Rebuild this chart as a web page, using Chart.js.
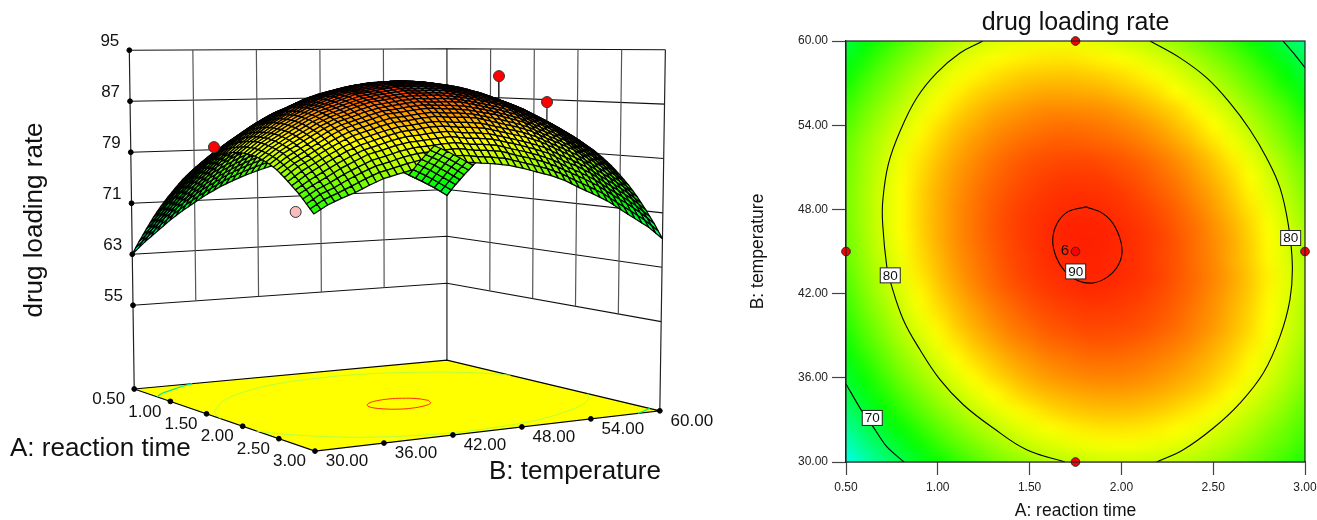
<!DOCTYPE html>
<html><head><meta charset="utf-8">
<style>html,body{margin:0;padding:0;background:#fff;width:1317px;height:520px;overflow:hidden}
canvas{position:absolute;top:0}</style>
<script src="https://cdn.jsdelivr.net/npm/chart.js@4"></script></head>
<body>
<canvas id="surface" width="740" height="520" style="left:0"></canvas>
<canvas id="contour" width="590" height="520" style="left:740px"></canvas>
<script>
const aValues=[0.5,0.6,0.7,0.8,0.9,1.0,1.1,1.2,1.3,1.4,1.5,1.6,1.7,1.8,1.9,2.0,2.1,2.2,2.3,2.4,2.5,2.6,2.7,2.8,2.9,3.0];
const bValues=[30,31.2,32.4,33.6,34.8,36,37.2,38.4,39.6,40.8,42,43.2,44.4,45.6,46.8,48,49.2,50.4,51.6,52.8,54,55.2,56.4,57.6,58.8,60];
const zRows=[
[63.0,64.8,66.4,68.0,69.4,70.7,71.9,73.0,73.9,74.7,75.4,76.0,76.5,76.9,77.1,77.2,77.2,77.1,76.8,76.5,75.7,74.8,73.7,72.6,71.4,70.0],
[65.3,67.0,68.7,70.2,71.6,72.9,74.0,75.1,76.0,76.8,77.5,78.1,78.5,78.8,79.0,79.1,79.1,78.9,78.7,78.3,77.5,76.7,75.7,74.6,73.3,72.0],
[67.4,69.1,70.7,72.3,73.6,74.9,76.0,77.0,77.9,78.7,79.4,79.9,80.3,80.7,80.9,80.9,80.9,80.7,80.4,80.0,79.3,78.4,77.4,76.4,75.2,73.8],
[69.4,71.1,72.7,74.2,75.5,76.8,77.9,78.9,79.7,80.5,81.1,81.7,82.0,82.3,82.5,82.5,82.5,82.3,82.0,81.5,80.8,80.0,79.0,78.0,76.8,75.5],
[71.2,72.9,74.4,75.9,77.2,78.5,79.5,80.5,81.4,82.1,82.7,83.2,83.6,83.8,84.0,84.0,83.9,83.7,83.4,82.9,82.2,81.4,80.5,79.5,78.3,77.0],
[72.8,74.5,76.0,77.5,78.8,80.0,81.0,82.0,82.8,83.5,84.1,84.6,84.9,85.2,85.3,85.3,85.2,85.0,84.6,84.1,83.5,82.7,81.8,80.8,79.7,78.4],
[74.3,76.0,77.5,78.9,80.2,81.4,82.4,83.3,84.2,84.8,85.4,85.9,86.2,86.4,86.5,86.5,86.3,86.1,85.7,85.2,84.6,83.8,82.9,82.0,80.9,79.6],
[75.7,77.3,78.8,80.2,81.5,82.6,83.6,84.5,85.3,85.9,86.5,87.0,87.2,87.4,87.5,87.4,87.3,87.0,86.6,86.1,85.4,84.7,83.8,82.8,81.7,80.4],
[76.9,78.5,79.9,81.3,82.5,83.7,84.6,85.5,86.3,86.9,87.5,87.9,88.1,88.3,88.4,88.3,88.1,87.8,87.4,86.8,86.2,85.4,84.4,83.4,82.3,81.0],
[77.9,79.5,80.9,82.2,83.5,84.6,85.5,86.4,87.2,87.7,88.3,88.7,88.9,89.0,89.1,89.0,88.7,88.4,88.0,87.4,86.7,85.9,84.9,83.9,82.8,81.5],
[78.7,80.3,81.7,83.0,84.3,85.4,86.2,87.1,87.8,88.4,88.9,89.3,89.4,89.6,89.6,89.5,89.2,88.9,88.5,87.8,87.1,86.3,85.3,84.3,83.1,81.7],
[79.5,81.0,82.3,83.7,84.9,86.0,86.8,87.7,88.4,88.9,89.4,89.7,89.9,90.0,90.0,89.8,89.6,89.2,88.8,88.1,87.4,86.6,85.5,84.4,83.3,81.9],
[80.0,81.5,82.9,84.2,85.3,86.4,87.2,88.0,88.7,89.2,89.7,90.0,90.1,90.3,90.3,90.0,89.8,89.4,88.9,88.2,87.5,86.6,85.5,84.5,83.3,81.8],
[80.4,81.9,83.2,84.5,85.6,86.7,87.5,88.3,89.0,89.4,89.9,90.2,90.3,90.4,90.3,90.1,89.8,89.4,88.9,88.1,87.4,86.5,85.4,84.3,83.1,81.7],
[80.6,82.1,83.4,84.7,85.8,86.8,87.6,88.4,89.0,89.4,89.9,90.2,90.2,90.3,90.3,90.0,89.7,89.3,88.7,87.9,87.2,86.3,85.2,84.0,82.8,81.3],
[80.7,82.2,83.4,84.7,85.8,86.8,87.5,88.3,88.9,89.3,89.7,90.0,90.0,90.1,90.0,89.7,89.4,88.9,88.4,87.6,86.8,85.9,84.7,83.6,82.3,80.8],
[80.6,82.1,83.3,84.5,85.6,86.6,87.3,88.0,88.7,89.0,89.4,89.7,89.7,89.7,89.6,89.3,88.9,88.5,87.9,87.1,86.3,85.3,84.2,83.0,81.7,80.2],
[80.4,81.8,83.0,84.2,85.3,86.2,86.9,87.6,88.2,88.6,88.9,89.2,89.1,89.2,89.1,88.7,88.3,87.8,87.3,86.4,85.6,84.6,83.4,82.2,80.9,79.4],
[80.0,81.4,82.6,83.7,84.8,85.7,86.4,87.1,87.7,88.0,88.3,88.5,88.5,88.5,88.3,88.0,87.6,87.1,86.5,85.6,84.7,83.8,82.5,81.3,80.0,78.4],
[79.5,80.9,82.0,83.1,84.2,85.1,85.7,86.4,86.9,87.2,87.5,87.7,87.6,87.6,87.5,87.1,86.6,86.1,85.5,84.6,83.7,82.7,81.4,80.2,78.9,77.3],
[78.8,80.1,81.2,82.3,83.4,84.3,84.9,85.5,86.1,86.3,86.6,86.8,86.7,86.6,86.4,86.0,85.6,85.0,84.4,83.4,82.5,81.5,80.2,79.0,77.6,76.0],
[77.9,79.3,80.3,81.4,82.4,83.3,83.9,84.5,85.0,85.2,85.5,85.7,85.5,85.5,85.3,84.8,84.3,83.8,83.1,82.1,81.2,80.2,78.9,77.6,76.2,74.6],
[76.9,78.2,79.3,80.3,81.3,82.1,82.7,83.3,83.8,84.0,84.3,84.4,84.2,84.1,83.9,83.4,82.9,82.4,81.7,80.7,79.7,78.7,77.3,76.0,74.6,73.0],
[75.9,77.0,78.0,79.1,80.0,80.9,81.4,82.0,82.4,82.6,82.8,83.0,82.7,82.6,82.4,81.9,81.4,80.8,80.1,79.0,78.1,77.0,75.6,74.3,72.9,71.2],
[74.7,75.9,76.7,77.7,78.6,79.4,79.9,80.5,80.9,81.1,81.3,81.4,81.1,81.0,80.8,80.2,79.7,79.1,78.3,77.3,76.3,75.2,73.8,72.5,71.0,69.3],
[73.5,74.6,75.4,76.1,77.0,77.8,78.3,78.8,79.3,79.3,79.6,79.6,79.4,79.2,78.9,78.4,77.8,77.2,76.4,75.3,74.3,73.2,71.8,70.4,69.0,67.2]
];
const aTicks=[0.5,1,1.5,2,2.5,3];
const bTicks=[30,36,42,48,54,60];
const zTicks=[55,63,71,79,87,95];
// contour lines
const c80LeftA=[1.245,1.121,0.994,0.885,0.794,0.73,0.7,0.7,0.722,0.743,0.812,0.903,1.012,1.139,1.302,1.484,1.693];
const c80LeftB=[60,59.15,57.73,55.94,53.56,51.19,48.57,46.91,43.94,42.78,40.14,38,35.87,34.08,32.42,30.87,30];
const c80RightA=[2.156,2.319,2.465,2.591,2.7,2.791,2.864,2.909,2.931,2.918,2.864,2.773,2.646,2.501,2.337,2.192];
const c80RightB=[60,58.8,57.37,55.59,53.68,51.67,49.53,46.91,44.06,41.57,38.95,36.34,34.2,32.42,30.87,30];
const c90A=[1.807,1.9,1.965,2.003,1.987,1.927,1.845,1.764,1.693,1.644,1.626,1.649,1.709,1.807];
const c90B=[48.18,47.7,46.77,45.27,44.13,43.21,42.76,42.92,43.58,44.63,45.85,46.98,47.84,48.18];
const c70LowA=[0.5,0.585,0.647,0.722,0.816];
const c70LowB=[35.56,33.66,32.52,31.09,30];
const c70HighA=[2.88,2.94,3];
const c70HighB=[60,59.1,58.1];
// design points
const designA=[0.5,3,1.75,1.75,1.75];
const designB=[45,45,30,60,45];
// design points as seen in the 3D view: A, B, response
const obsA=[1.64,3,0.5,1.65];
const obsB=[30,45.9,45.6,60];
const obsZ=[81.1,91.5,68.4,86.6];
const obsColor=['#ff0000','#ff0000','#f8bcbc','#ff0000'];
const stemIdx=[1,3];
const stemZ=[80,76];
const labelA=[0.741,2.922,1.751,0.643];
const labelB=[43.3,45.96,43.58,33.14];
const labelText=['80','80','90','70'];

Chart.defaults.font.family="'Liberation Sans',Arial,sans-serif";
Chart.defaults.color='#111';

function colorOf(z){
  const s=[[62,[0,255,255]],[72.5,[0,255,0]],[82.5,[255,255,0]],[91.5,[255,0,0]]];
  if(z<=s[0][0])return s[0][1];
  for(let i=1;i<s.length;i++){ if(z<=s[i][0]){
    const t=(z-s[i-1][0])/(s[i][0]-s[i-1][0]),p=s[i-1][1],q=s[i][1];
    return [0,1,2].map(k=>Math.round(p[k]+(q[k]-p[k])*t)); } }
  return s[3][1];
}
function rgb(c){return 'rgb('+c.join(',')+')';}

// camera: image of the box's floor corners (left, front, right, back), vertical scale at each, lean of the uprights
const floorQuad=[[130,392.3],[314,456],[665,414.7],[448.3,362.7]];
const pxPerUnit=[6.54,7.69,6.97,6.01];
const zFloor=41.87;
function proj(A,B,z){
  const u=(A-0.5)/2.5,v=(B-30)/30,h=z-zFloor;
  const w=[(1-u)*(1-v),u*(1-v),u*v,(1-u)*v];
  let fx=0,fy=0,s=0;
  w.forEach((k,i)=>{fx+=k*floorQuad[i][0];fy+=k*floorQuad[i][1];s+=k*pxPerUnit[i];});
  const lean=(fx<448?0.0157:0.026)*(fx-448)*(h/53.13);
  return {x:fx+lean,y:fy-h*s};
}
function polyline(A,B,z){return A.map((a,i)=>proj(a,B[i],z));}
function withBreaks(lines){const o=[];lines.forEach(l=>{o.push(...l,{x:NaN,y:NaN});});return o;}

const gridH=[],gridV=[];
zTicks.forEach(z=>{
  gridH.push([proj(0.5,30,z),proj(0.5,60,z)]);
  gridH.push([proj(0.5,60,z),proj(3,60,z)]);
});
bTicks.slice(1,-1).forEach(b=>gridV.push([proj(0.5,b,55),proj(0.5,b,95)]));
aTicks.slice(1,-1).forEach(a=>gridV.push([proj(a,60,55),proj(a,60,95)]));
const corners=[[proj(0.5,30,zFloor),proj(0.5,30,95)],[proj(0.5,60,zFloor),proj(0.5,60,95)],[proj(3,60,zFloor),proj(3,60,95)]];
const floorShape=[[0.5,30],[3,30],[3,60],[0.5,60],[0.5,30]].map(p=>proj(p[0],p[1],zFloor));
const tickDots=[...aTicks.map(a=>proj(a,30,zFloor)),...bTicks.slice(1).map(b=>proj(3,b,zFloor)),...zTicks.map(z=>proj(0.5,30,z))];
const stems=stemIdx.map((i,k)=>[proj(obsA[i],obsB[i],obsZ[i]),proj(obsA[i],obsB[i],stemZ[k])]);
const line=(data,color,width,order,extra)=>Object.assign({type:'scatter',showLine:true,data,borderColor:color,borderWidth:width,pointRadius:0,order,spanGaps:false,tension:0},extra||{});

const surfacePlugin={
  id:'surface',
  beforeDatasetDraw(chart,args){
    if(args.index!==0)return;
    const c=chart.ctx,X=chart.scales.x,Y=chart.scales.y;
    const P=(i,j)=>{const p=proj(aValues[i],bValues[j],zRows[i][j]);return [X.getPixelForValue(p.x),Y.getPixelForValue(p.y)];};
    const n=aValues.length,m=bValues.length;
    function cell(i,j){
      const p00=P(i,j),p10=P(i+1,j),p01=P(i,j+1),p11=P(i+1,j+1);
      const z00=zRows[i][j],z10=zRows[i+1][j],z01=zRows[i][j+1],z11=zRows[i+1][j+1];
      const L=(s,t)=>[0,1].map(k=>p00[k]*(1-s)*(1-t)+p10[k]*s*(1-t)+p01[k]*(1-s)*t+p11[k]*s*t);
      const Z=(s,t)=>z00*(1-s)*(1-t)+z10*s*(1-t)+z01*(1-s)*t+z11*s*t;
      for(let a=0;a<2;a++)for(let b=1;b>=0;b--){
        const s=a/2,t=b/2,d=.5;
        const q=[L(s,t),L(s+d,t),L(s+d,t+d),L(s,t+d)];
        c.beginPath();c.moveTo(q[0][0],q[0][1]);for(let k=1;k<4;k++)c.lineTo(q[k][0],q[k][1]);c.closePath();
        c.fillStyle=rgb(colorOf(Z(s+d/2,t+d/2)));c.fill();c.stroke();
      }
    }
    c.save();c.strokeStyle='#000';c.lineWidth=1.25;c.lineJoin='round';
    for(let i=0;i<n-1;i++)for(let j=m-2;j>=0;j--)cell(i,j);
    // the far corner of the mesh is painted over the near side, as in the source picture
    for(let i=0;i<3;i++)for(let j=m-2;j>=m-4;j--)cell(i,j);
    c.restore();
  },
  afterDraw(chart){
    const c=chart.ctx,X=chart.scales.x,Y=chart.scales.y;
    const pt=p=>[X.getPixelForValue(p.x),Y.getPixelForValue(p.y)];
    c.save();c.fillStyle='#111';c.textBaseline='middle';
    c.font="17px 'Liberation Sans',Arial,sans-serif";
    c.textAlign='center';
    aTicks.forEach(a=>{const p=pt(proj(a,30,zFloor));c.fillText(a.toFixed(2),p[0]-25.5,p[1]+10.5);});
    bTicks.forEach(b=>{const p=pt(proj(3,b,zFloor));c.fillText(b.toFixed(2),p[0]+32,p[1]+10.5);});
    c.textAlign='right';
    zTicks.forEach(z=>{const p=pt(proj(0.5,30,z));c.fillText(String(z),p[0]-10,p[1]-8.5);});
    c.font="26px 'Liberation Sans',Arial,sans-serif";c.textAlign='left';
    c.fillText('A: reaction time',10,449);
    c.fillText('B: temperature',489,472);
    c.translate(35,220);c.rotate(-Math.PI/2);c.textAlign='center';
    c.fillText('drug loading rate',0,0);
    c.restore();
  }
};

new Chart(document.getElementById('surface'),{
  type:'scatter',
  data:{datasets:[
    {type:'scatter',data:obsA.map((a,i)=>proj(a,obsB[i],obsZ[i])),backgroundColor:obsColor,borderColor:'#333',borderWidth:1,pointRadius:5.5,order:0},
    line(withBreaks(stems),'#111',1.2,1),
    {type:'scatter',data:tickDots,backgroundColor:'#000',borderColor:'#000',pointRadius:2.4,order:2},
    line(polyline(c90A,c90B,zFloor),'#ff2a00',1,3,{tension:0.4}),
    line(polyline(c80LeftA,c80LeftB,zFloor),'#b4ff3c',1,4,{tension:0.4}),
    line(polyline(c80RightA,c80RightB,zFloor),'#b4ff3c',1,4.5,{tension:0.4}),
    line(polyline(c70LowA,c70LowB,zFloor),'#00ee88',1.2,5,{tension:0.4}),
    line(polyline(c70HighA,c70HighB,zFloor),'#00ee88',1.2,6),
    line(floorShape,'#000',1.2,7,{fill:'shape',backgroundColor:'#ffff00'}),
    line(withBreaks(corners),'#222',1.2,8),
    line(withBreaks(gridV),'#555',1.2,9),
    line(withBreaks(gridH),'#111',1.1,10)
  ]},
  options:{responsive:false,animation:false,devicePixelRatio:1,layout:{padding:0},
    plugins:{legend:{display:false},tooltip:{enabled:false},title:{display:false}},
    scales:{x:{type:'linear',min:0,max:740,display:false},y:{type:'linear',min:0,max:520,reverse:true,display:false}}},
  plugins:[surfacePlugin]
});

const heatPlugin={
  id:'heat',
  beforeDatasetsDraw(chart){
    const c=chart.ctx,X=chart.scales.x,Y=chart.scales.y,n=aValues.length,m=bValues.length;
    const off=document.createElement('canvas');off.width=n;off.height=m;
    const o=off.getContext('2d'),img=o.createImageData(n,m);
    for(let i=0;i<n;i++)for(let j=0;j<m;j++){
      const col=colorOf(zRows[i][j]),k=4*((m-1-j)*n+i);
      img.data[k]=col[0];img.data[k+1]=col[1];img.data[k+2]=col[2];img.data[k+3]=255;
    }
    o.putImageData(img,0,0);
    const x0=X.getPixelForValue(0.5),x1=X.getPixelForValue(3),y0=Y.getPixelForValue(60),y1=Y.getPixelForValue(30);
    c.save();c.imageSmoothingEnabled=true;c.imageSmoothingQuality='high';
    c.drawImage(off,0.5,0.5,n-1,m-1,x0,y0,x1-x0,y1-y0);
    c.restore();
  },
  afterDatasetsDraw(chart){
    const c=chart.ctx,X=chart.scales.x,Y=chart.scales.y,a=chart.chartArea;
    c.save();c.strokeStyle='#222';c.lineWidth=1.2;c.strokeRect(a.left,a.top,a.right-a.left,a.bottom-a.top);
    c.font="13.5px 'Liberation Sans',Arial,sans-serif";c.textAlign='center';c.textBaseline='middle';
    labelText.forEach((t,i)=>{
      const x=X.getPixelForValue(labelA[i]),y=Y.getPixelForValue(labelB[i]);
      c.fillStyle='#fff';c.fillRect(x-10,y-7.5,20,15);
      c.strokeStyle='#222';c.lineWidth=1;c.strokeRect(x-10,y-7.5,20,15);
      c.fillStyle='#111';c.fillText(t,x,y+.5);
    });
    c.font="15px 'Liberation Sans',Arial,sans-serif";c.fillText('6',X.getPixelForValue(1.75)-10.5,Y.getPixelForValue(45)-.5);
    c.restore();
  }
};
const xy=(A,B)=>A.map((a,i)=>({x:a,y:B[i]}));
const tick=(v)=>v.toFixed(2);
new Chart(document.getElementById('contour'),{
  type:'scatter',
  data:{datasets:[
    {type:'scatter',data:xy(designA,designB),backgroundColor:'#ff0000',borderColor:'#222',borderWidth:1,pointRadius:4.3,clip:false,order:0},
    line(xy(c90A,c90B),'#000',1.1,1,{tension:0.4}),
    line(xy(c80LeftA,c80LeftB),'#000',1.1,2,{tension:0.4}),
    line(xy(c80RightA,c80RightB),'#000',1.1,2.5,{tension:0.4}),
    line(xy(c70LowA,c70LowB),'#000',1.1,3,{tension:0.3}),
    line(xy(c70HighA,c70HighB),'#000',1.1,4)
  ]},
  options:{responsive:false,animation:false,devicePixelRatio:1,layout:{padding:{left:0,right:25,top:0,bottom:0}},
    plugins:{legend:{display:false},tooltip:{enabled:false},
      title:{display:true,fullSize:false,text:'drug loading rate',color:'#111',font:{size:25,weight:'normal',lineHeight:1},padding:{top:11,bottom:5}}},
    scales:{
      x:{type:'linear',min:0.5,max:3,afterFit(s){s.height=58;},
        ticks:{stepSize:0.5,callback:tick,font:{size:12},color:'#222',padding:5,maxRotation:0,autoSkip:false},
        grid:{drawOnChartArea:false,tickLength:13,color:'#444',tickColor:'#444',tickWidth:1.2},border:{color:'#222',width:1.2},
        title:{display:true,text:'A: reaction time',color:'#111',font:{size:17.5,lineHeight:1},padding:{top:0,bottom:0}}},
      y:{type:'linear',min:30,max:60,afterFit(s){s.width=106;},
        ticks:{stepSize:6,callback:tick,font:{size:12},color:'#222',padding:4,autoSkip:false},
        grid:{drawOnChartArea:false,tickLength:14,color:'#444',tickColor:'#444',tickWidth:1.2},border:{color:'#222',width:1.2},
        title:{display:true,text:'B: temperature',color:'#111',font:{size:17.5},padding:{top:8,bottom:0}}}
    }},
  plugins:[heatPlugin]
});
</script>
</body></html>
